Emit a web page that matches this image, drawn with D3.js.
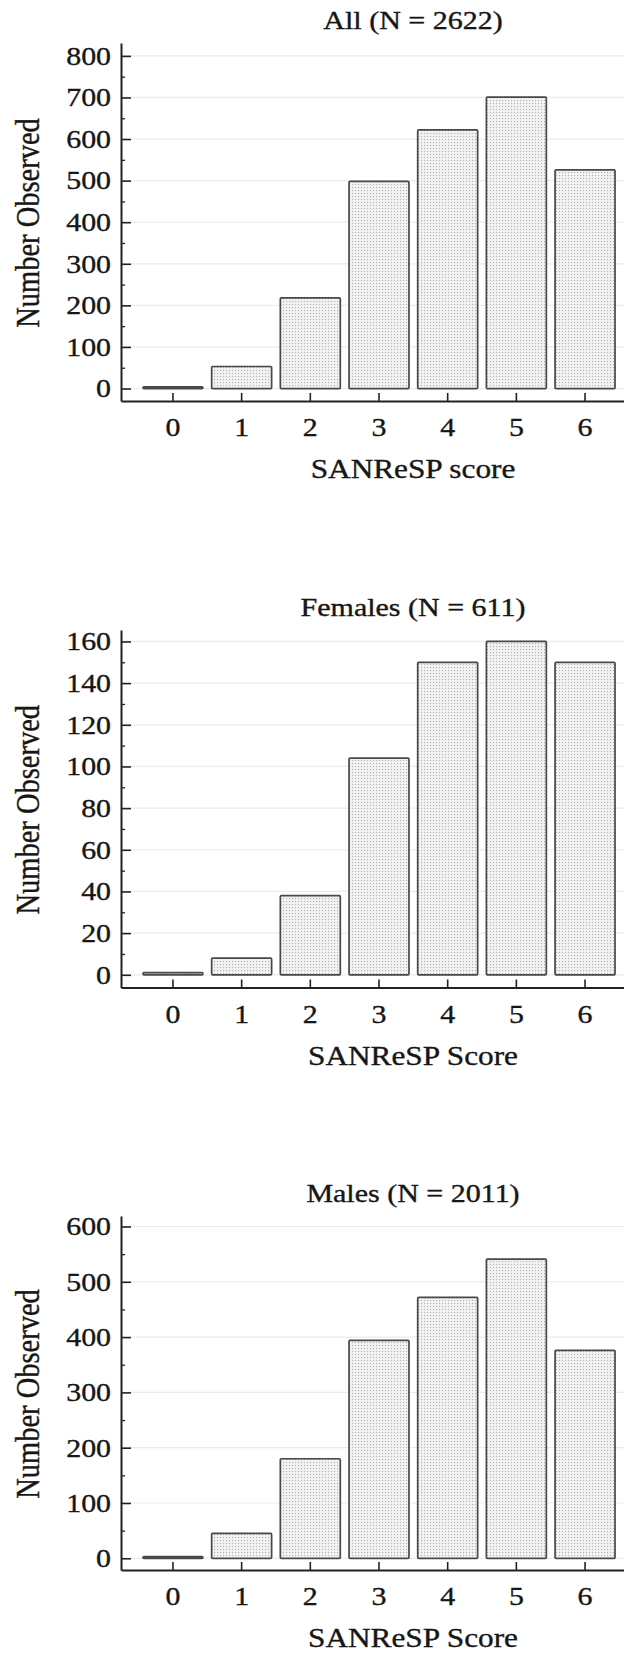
<!DOCTYPE html>
<html>
<head>
<meta charset="utf-8">
<script src="https://cdn.jsdelivr.net/npm/d3@7"></script>
<style>
  html, body { margin: 0; padding: 0; background: #fff; }
  svg { display: block; }
  text { font-family: "Liberation Serif", "DejaVu Serif", serif; fill: #161616; stroke: #161616; stroke-width: 0.35px; }
</style>
</head>
<body>
<div id="chart"></div>
<script>
// Data
const categories = [0, 1, 2, 3, 4, 5, 6];
const allCounts = [4, 53, 218, 498, 622, 701, 526];
const femaleCounts = [1, 8, 38, 104, 150, 160, 150];
const maleCounts = [3, 45, 180, 394, 472, 541, 376];

const panelTitles = ["All (N = 2622)", "Females (N = 611)", "Males (N = 2011)"];
const xAxisTitles = ["SANReSP score", "SANReSP Score", "SANReSP Score"];
const yAxisTitle = "Number Observed";

const yTicksAll = [0, 100, 200, 300, 400, 500, 600, 700, 800];
const yTicksFemales = [0, 20, 40, 60, 80, 100, 120, 140, 160];
const yTicksMales = [0, 100, 200, 300, 400, 500, 600];

const width = 624, height = 1656;

// layout of each panel (pixel positions of axis ends and y-domain limits)
const panels = [
    {counts: allCounts, ticks: yTicksAll, title: panelTitles[0], xTitle: xAxisTitles[0],
     top: 43, bottom: 401, yMin: -30, yMax: 831},
    {counts: femaleCounts, ticks: yTicksFemales, title: panelTitles[1], xTitle: xAxisTitles[1],
     top: 630, bottom: 987.5, yMin: -6.1, yMax: 165.5},
    {counts: maleCounts, ticks: yTicksMales, title: panelTitles[2], xTitle: xAxisTitles[2],
     top: 1216, bottom: 1570, yMin: -21.2, yMax: 619}
];

const axisX = 121;
const titleX = 413;

const svg = d3.select("#chart")
    .append("svg")
    .attr("width", width)
    .attr("height", height);

// dotted fill used by the bars
const pattern = svg.append("defs").append("pattern")
    .attr("id", "dots")
    .attr("width", 3)
    .attr("height", 3)
    .attr("patternUnits", "userSpaceOnUse");
pattern.append("rect").attr("width", 3).attr("height", 3).attr("fill", "#f2f2f2");
pattern.append("rect").attr("x", 1).attr("y", 1).attr("width", 1.1).attr("height", 1.1).attr("fill", "#b0b0b0");

// shared x scale
const x = d3.scaleBand()
    .domain(categories)
    .range([axisX, 637])
    .paddingInner(0.127)
    .paddingOuter(0.32);

panels.forEach(p => {
    const g = svg.append("g");

    const y = d3.scaleLinear()
        .domain([p.yMin, p.yMax])
        .range([p.bottom, p.top]);

    // faint grid lines at the major ticks
    g.append("g").selectAll("line")
        .data(p.ticks)
        .enter().append("line")
        .attr("x1", axisX)
        .attr("x2", width)
        .attr("y1", d => y(d))
        .attr("y2", d => y(d))
        .style("stroke", "#ebebeb")
        .style("stroke-width", 1.2);

    // bars
    g.append("g").selectAll("rect")
        .data(p.counts)
        .enter().append("rect")
        .attr("x", (d, i) => x(categories[i]))
        .attr("width", x.bandwidth())
        .attr("y", d => y(d))
        .attr("height", d => y(0) - y(d))
        .attr("rx", 1)
        .style("fill", "url(#dots)")
        .style("stroke", "#484848")
        .style("stroke-width", 1.7);

    // minor y ticks (half way between majors)
    const step = p.ticks[1] - p.ticks[0];
    const minor = p.ticks.map(t => t + step / 2).filter(t => t < p.yMax);
    const minorAxis = g.append("g")
        .attr("transform", `translate(${axisX},0)`)
        .call(d3.axisLeft(y).tickValues(minor).tickSizeInner(-4).tickSizeOuter(0).tickFormat(""));
    minorAxis.select(".domain").remove();
    minorAxis.selectAll("line").style("stroke", "#222").style("stroke-width", 1.3);

    // major y axis
    const tickScale = 1.15;
    const yAxis = g.append("g")
        .attr("transform", `translate(${axisX},0)`)
        .call(d3.axisLeft(y).tickValues(p.ticks).tickSizeInner(-10).tickSizeOuter(0).tickPadding(10));
    yAxis.select(".domain").style("stroke", "#222").style("stroke-width", 2);
    yAxis.selectAll(".tick line").style("stroke", "#222").style("stroke-width", 1.6);
    yAxis.selectAll("text")
        .attr("x", -10 / tickScale)
        .attr("transform", `scale(${tickScale},1)`)
        .style("font-size", "26px")
        .style("font-family", "'Liberation Serif', serif")
        .style("fill", "#161616");

    // x axis
    const xAxis = g.append("g")
        .attr("transform", `translate(0,${p.bottom})`)
        .call(d3.axisBottom(x).tickSizeInner(-8).tickSizeOuter(0));
    xAxis.select(".domain").style("stroke", "#222").style("stroke-width", 2);
    xAxis.selectAll(".tick line").style("stroke", "#222").style("stroke-width", 1.6);
    xAxis.selectAll("text")
        .attr("y", 26)
        .attr("dy", "0.35em")
        .attr("transform", `scale(${tickScale},1)`)
        .style("font-size", "26px")
        .style("font-family", "'Liberation Serif', serif")
        .style("fill", "#161616");

    // panel title
    g.append("text")
        .attr("transform", `translate(${titleX},${p.top - 14}) scale(1.2,1)`)
        .attr("text-anchor", "middle")
        .style("font-size", "25px")
        .text(p.title);

    // x axis title
    g.append("text")
        .attr("transform", `translate(${titleX},${p.bottom + 77}) scale(1.18,1)`)
        .attr("text-anchor", "middle")
        .style("font-size", "26.5px")
        .text(p.xTitle);

    // y axis title
    g.append("text")
        .attr("transform", `translate(39,${(p.top + p.bottom) / 2 + 1}) scale(1.15,1) rotate(-90)`)
        .attr("text-anchor", "middle")
        .style("font-size", "28.5px")
        .text(yAxisTitle);
});
</script>
</body>
</html>
